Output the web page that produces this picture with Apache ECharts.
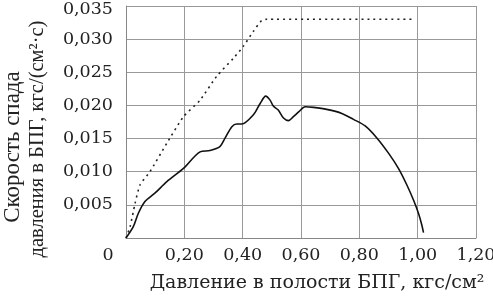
<!DOCTYPE html>
<html><head><meta charset="utf-8">
<script src="https://cdn.jsdelivr.net/npm/echarts@6/dist/echarts.min.js"></script>
<style>html,body{margin:0;padding:0;background:#fff}#c{width:493px;height:296px}</style>
</head><body><div id="c"></div>
<script>
var xTitle = 'Давление в полости БПГ, кгс/см²';
var yTitleLines = ['Скорость спада', 'давления в БПГ, кгс/(см²·с)'];
var solidX = [0, 0.025, 0.042, 0.065, 0.10, 0.14, 0.197, 0.254, 0.288, 0.322, 0.34, 0.363, 0.38, 0.397, 0.437, 0.46, 0.479, 0.494, 0.505, 0.522, 0.54, 0.557, 0.574, 0.594, 0.614, 0.643, 0.688, 0.74, 0.78, 0.82, 0.86, 0.90, 0.934, 0.963, 0.986, 1.003, 1.014, 1.02];
var solidY = [0, 0.0017, 0.0037, 0.0055, 0.0068, 0.0085, 0.0105, 0.0130, 0.0132, 0.0138, 0.0151, 0.0168, 0.0172, 0.0172, 0.0186, 0.0203, 0.0214, 0.0208, 0.0199, 0.0193, 0.0181, 0.0177, 0.0183, 0.0191, 0.0198, 0.0197, 0.0194, 0.0188, 0.0179, 0.0169, 0.0151, 0.0128, 0.0105, 0.0080, 0.0057, 0.0037, 0.0020, 0.0008];
var dotX = [0, 0.014, 0.031, 0.048, 0.082, 0.14, 0.197, 0.254, 0.311, 0.368, 0.402, 0.437, 0.465, 0.483, 0.986];
var dotY = [0, 0.0017, 0.0052, 0.0080, 0.0100, 0.0143, 0.0183, 0.0208, 0.0244, 0.0271, 0.0289, 0.0312, 0.0328, 0.0330, 0.0330];
function pairs(xs, ys){ return xs.map(function(x,i){return [x, ys[i]];}); }
var font = '"DejaVu Serif", "Liberation Serif", serif';
var yFont = '"Liberation Serif", "DejaVu Serif", serif';
var tickSize = 17.5, titleSize = 19;
var chart = echarts.init(document.getElementById('c'));
chart.setOption({
  animation: false,
  backgroundColor: '#fff',
  grid: {left: 126, right: 17, top: 6, bottom: 58, outerBoundsMode: 'none', containLabel: false},
  xAxis: {
    type: 'value', min: 0, max: 1.2, interval: 0.2,
    name: xTitle, nameLocation: 'middle', nameGap: 36,
    nameTextStyle: {fontFamily: font, fontSize: titleSize, color: '#222', padding: [0, 0, 0, 32]},
    axisLine: {show: true, lineStyle: {color: '#888', width: 1}},
    axisTick: {show: false},
    splitLine: {show: true, lineStyle: {color: '#999', width: 1}},
    axisLabel: {
      margin: 8, fontFamily: font, fontSize: tickSize, color: '#222',
      formatter: function(v){ return v === 0 ? '{z|0}' : v.toFixed(2).replace('.', ','); },
      rich: {z: {fontFamily: font, fontSize: tickSize, color: '#222', padding: [0, 36, 0, 0]}}
    }
  },
  yAxis: {
    type: 'value', min: 0, max: 0.035, interval: 0.005,
    name: '{a|' + yTitleLines[0] + '}\n{b|' + yTitleLines[1] + '}',
    nameLocation: 'middle', nameGap: 76, nameRotate: 90,
    nameTextStyle: {fontFamily: yFont, fontSize: 20.5, color: '#222', lineHeight: 25,
      rich: {
        a: {fontFamily: yFont, fontSize: 23, color: '#222', lineHeight: 25, padding: [0, 50, 0, 0]},
        b: {fontFamily: yFont, fontSize: 20.5, color: '#222', lineHeight: 25, padding: [0, 34, 0, 0]}
      }},
    axisLine: {show: true, lineStyle: {color: '#888', width: 1}},
    axisTick: {show: false},
    splitLine: {show: true, lineStyle: {color: '#999', width: 1}},
    axisLabel: {
      margin: 13, fontFamily: font, fontSize: tickSize, color: '#222',
      formatter: function(v){
        if (v === 0) return '';
        var s = v.toFixed(3).replace('.', ',');
        return v >= 0.035 ? '{t|' + s + '}' : s;
      },
      rich: {t: {fontFamily: font, fontSize: tickSize, color: '#222', padding: [7, 0, 0, 0]}}
    }
  },
  series: [
    {type: 'line', data: pairs(dotX, dotY), showSymbol: false, smooth: 0.2,
     lineStyle: {color: '#222', width: 1.6, type: [2, 4]}},
    {type: 'line', data: pairs(solidX, solidY), showSymbol: false, smooth: 0.3,
     lineStyle: {color: '#111', width: 1.6}}
  ]
});
</script></body></html>
